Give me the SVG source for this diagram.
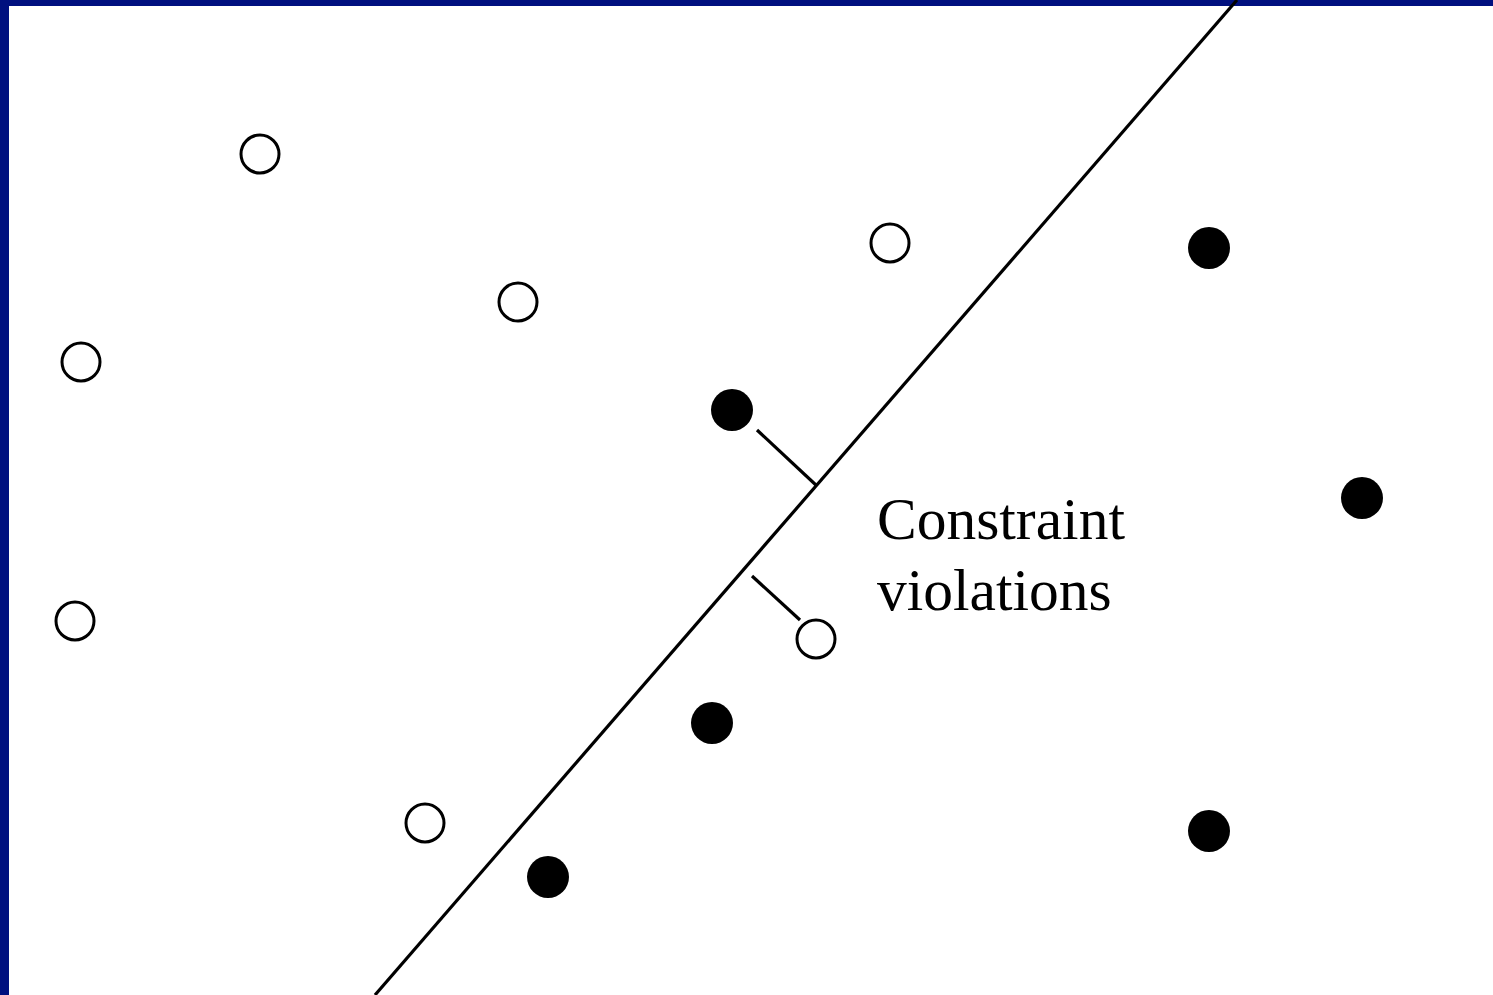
<svg xmlns="http://www.w3.org/2000/svg" width="1493" height="995" viewBox="0 0 1493 995">
<style>
.open{fill:#fff;stroke:#000;stroke-width:3}
.fill{fill:#000}
.ln{stroke:#000;stroke-width:3.2;fill:none;stroke-linecap:butt}
.lbl{font-family:"Liberation Serif","Times New Roman",serif;font-size:59.5px;fill:#000}
</style>
<rect x="0" y="0" width="1493" height="995" fill="#fff"/>
<rect x="0" y="0" width="1493" height="6" fill="#00107f"/>
<rect x="0" y="0" width="9" height="995" fill="#00107f"/>
<g id="connectors">
<line class="ln" x1="1237" y1="0" x2="375" y2="995"/>
<line class="ln" x1="757" y1="430" x2="817" y2="486"/>
<line class="ln" x1="752" y1="576" x2="800" y2="620"/>
</g>
<g id="open-points">
<circle id="o1" class="open" cx="260" cy="154" r="19"/>
<circle id="o2" class="open" cx="518" cy="302" r="19"/>
<circle id="o3" class="open" cx="81" cy="362" r="19"/>
<circle id="o4" class="open" cx="890" cy="243" r="19"/>
<circle id="o5" class="open" cx="75" cy="621" r="19"/>
<circle id="o6" class="open" cx="816" cy="639" r="19"/>
<circle id="o7" class="open" cx="425" cy="823" r="19"/>
</g>
<g id="filled-points">
<circle id="f1" class="fill" cx="1209" cy="248" r="21"/>
<circle id="f2" class="fill" cx="732" cy="410" r="21"/>
<circle id="f3" class="fill" cx="1362" cy="498" r="21"/>
<circle id="f4" class="fill" cx="712" cy="723" r="21"/>
<circle id="f5" class="fill" cx="1209" cy="831" r="21"/>
<circle id="f6" class="fill" cx="548" cy="877" r="21"/>
</g>
<g id="label">
<text class="lbl" x="877" y="539">Constraint</text>
<text class="lbl" x="877" y="610">violations</text>
</g>
</svg>
